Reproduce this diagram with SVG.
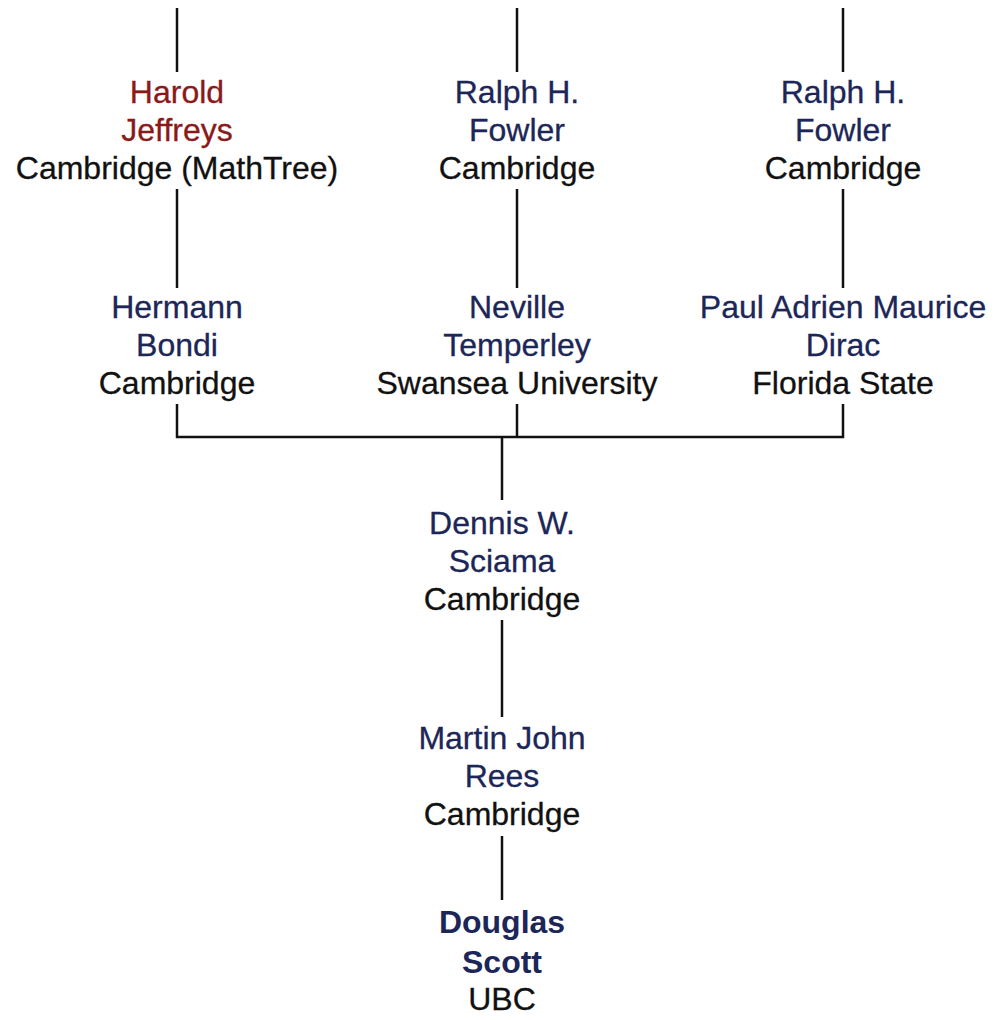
<svg xmlns="http://www.w3.org/2000/svg" width="999" height="1020" viewBox="0 0 999 1020">
<style>
text{font-family:"Liberation Sans",Arial,sans-serif;font-size:32px;text-anchor:middle;stroke-width:0.3px}
.n{fill:#1c2657;stroke:#1c2657}
.r{fill:#8a1a1a;stroke:#8a1a1a}
.i{fill:#111111;stroke:#111111}
.b{font-weight:bold;stroke-width:0}
.c line,.c path{stroke:#111;stroke-width:2.5;fill:none}
</style>
<rect width="999" height="1020" fill="#ffffff"/>
<g class="c" id="connectors">
<line x1="177" y1="8" x2="177" y2="72"/>
<line x1="517" y1="8" x2="517" y2="72"/>
<line x1="843" y1="8" x2="843" y2="72"/>
<line x1="177" y1="189" x2="177" y2="288"/>
<line x1="517" y1="189" x2="517" y2="288"/>
<line x1="843" y1="189" x2="843" y2="288"/>
<path d="M177 404V437H843V404M517 404V437M502 437V500"/>
<line x1="502" y1="620" x2="502" y2="717"/>
<line x1="502" y1="836" x2="502" y2="900"/>
</g>
<g id="jeffreys"><text class="r" x="177" y="103">Harold</text><text class="r" x="177" y="141">Jeffreys</text><text class="i" x="177" y="179">Cambridge (MathTree)</text></g>
<g id="fowler1"><text class="n" x="517" y="103">Ralph H.</text><text class="n" x="517" y="141">Fowler</text><text class="i" x="517" y="179">Cambridge</text></g>
<g id="fowler2"><text class="n" x="843" y="103">Ralph H.</text><text class="n" x="843" y="141">Fowler</text><text class="i" x="843" y="179">Cambridge</text></g>
<g id="bondi"><text class="n" x="177" y="318">Hermann</text><text class="n" x="177" y="356">Bondi</text><text class="i" x="177" y="394">Cambridge</text></g>
<g id="temperley"><text class="n" x="517" y="318">Neville</text><text class="n" x="517" y="356">Temperley</text><text class="i" x="517" y="394">Swansea University</text></g>
<g id="dirac"><text class="n" x="843" y="318">Paul Adrien Maurice</text><text class="n" x="843" y="356">Dirac</text><text class="i" x="843" y="394">Florida State</text></g>
<g id="sciama"><text class="n" x="502" y="534">Dennis W.</text><text class="n" x="502" y="572">Sciama</text><text class="i" x="502" y="610">Cambridge</text></g>
<g id="rees"><text class="n" x="502" y="749">Martin John</text><text class="n" x="502" y="787">Rees</text><text class="i" x="502" y="825">Cambridge</text></g>
<g id="scott"><text class="n b" x="502" y="933">Douglas</text><text class="n b" x="502" y="973">Scott</text><text class="i" x="502" y="1010">UBC</text></g>
</svg>
